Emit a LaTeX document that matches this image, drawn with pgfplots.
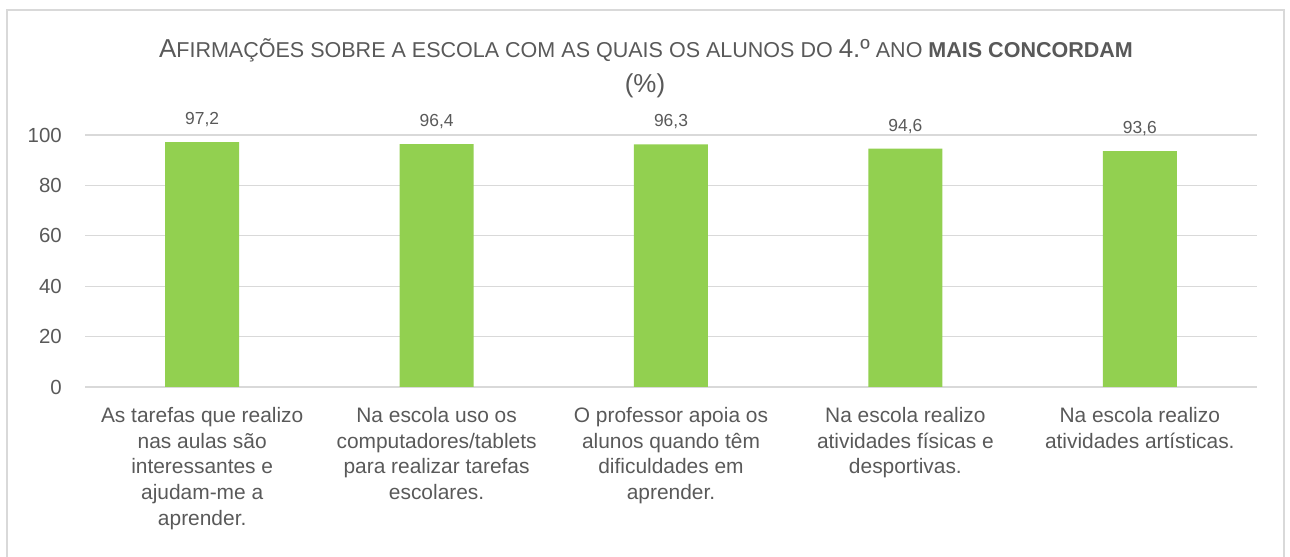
\documentclass[border=0pt]{standalone}
\usepackage{fontspec}
\setmainfont{Liberation Sans}
\usepackage{pgfplots}
\pgfplotsset{compat=1.18}
\definecolor{bargreen}{HTML}{92D050}
\definecolor{txtgray}{HTML}{595959}
\definecolor{gridgray}{HTML}{D9D9D9}
\newcommand{\bigc}[1]{{\fontsize{26}{29}\selectfont #1}}
\newcommand{\smc}[1]{{\fontsize{21.6}{29}\selectfont #1}}
\begin{document}
\begin{tikzpicture}
\path[use as bounding box] (0,0) rectangle (1290bp,557bp);
\draw[gridgray, line width=1.5bp] (7bp,0) -- (7bp,547bp) -- (1284bp,547bp) -- (1284bp,0);
\node[txtgray, anchor=base, inner sep=0] at (646bp,499.5bp) {\bigc{A}\smc{FIRMAÇÕES SOBRE A ESCOLA COM AS QUAIS OS ALUNOS DO }\bigc{4.º}\smc{ ANO }\smc{\bfseries MAIS CONCORDAM}};
\node[txtgray, anchor=base, inner sep=0] at (645bp,464bp) {\bigc{(\%)}};
\begin{axis}[
  at={(85bp,170bp)}, anchor=south west,
  scale only axis, width=1172bp, height=252bp,
  xmin=-0.5, xmax=4.5, ymin=0, ymax=100,
  ytick={0,20,...,100},
  xtick=data,
  xticklabels={{As tarefas que realizo\\nas aulas são\\interessantes e\\ajudam-me a\\aprender.},
               {Na escola uso os\\computadores/tablets\\para realizar tarefas\\escolares.},
               {O professor apoia os\\alunos quando têm\\dificuldades em\\aprender.},
               {Na escola realizo\\atividades físicas e\\desportivas.},
               {Na escola realizo\\atividades artísticas.}},
  axis line style={draw=none},
  major tick length=0pt,
  ymajorgrids, grid style={gridgray, line width=1.2bp},
  ybar, bar width=74bp,
  clip=false,
  /pgf/number format/assume math mode=true,
  yticklabel style={font=\fontsize{20.5}{24}\selectfont, text=txtgray, inner sep=0pt, xshift=-23bp},
  xticklabel style={font=\fontsize{21}{25.8}\selectfont, text=txtgray, align=center, anchor=north, inner sep=0pt, yshift=-20bp},
  nodes near coords={\pgfmathprintnumber[fixed, fixed zerofill, precision=1, use comma]{\pgfplotspointmeta}},
  nodes near coords style={font=\fontsize{17.5}{20}\selectfont, text=txtgray, anchor=south, inner sep=0pt, yshift=15bp},
]
\addplot[fill=bargreen, draw=none] coordinates {(0,97.2) (1,96.4) (2,96.3) (3,94.6) (4,93.6)};
\end{axis}
\end{tikzpicture}
\end{document}
